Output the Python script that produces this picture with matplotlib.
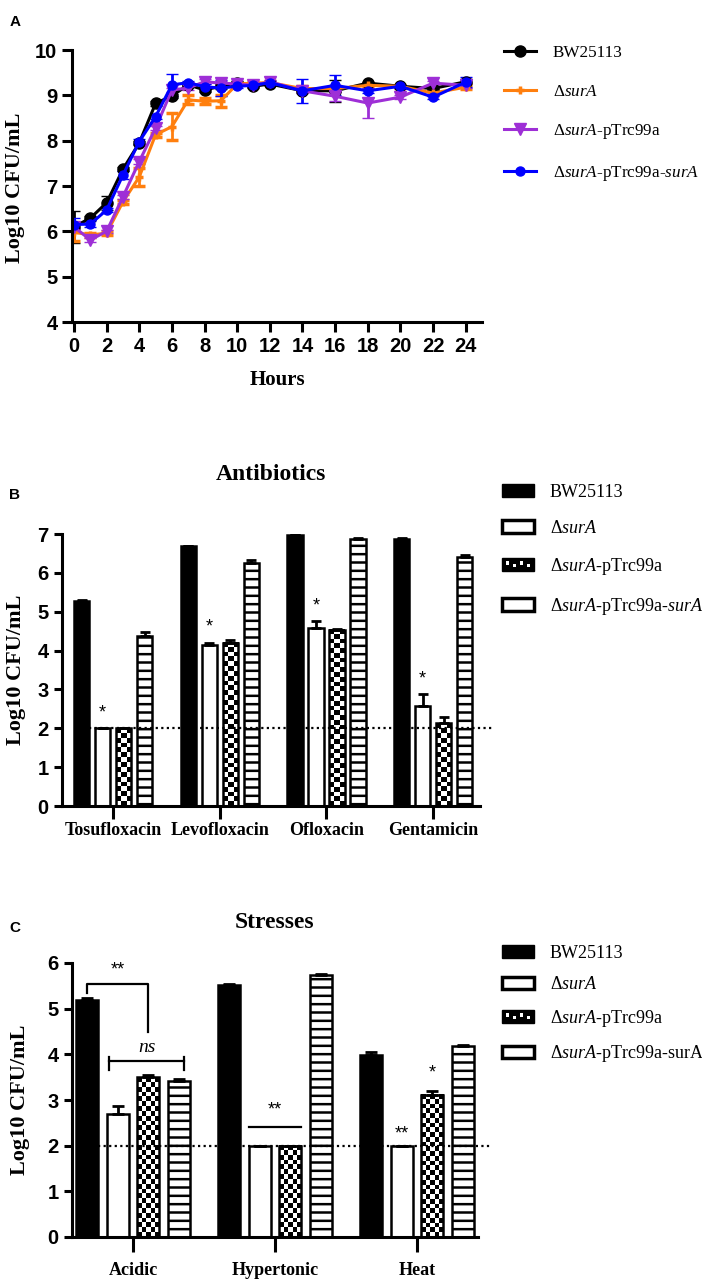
import numpy as np
import matplotlib
matplotlib.use('Agg')
import matplotlib.pyplot as plt
from matplotlib.lines import Line2D
from matplotlib.patches import Patch, Rectangle
from matplotlib.legend_handler import HandlerBase

plt.rcParams['font.family'] = 'Liberation Sans'
plt.rcParams['mathtext.fontset'] = 'custom'
plt.rcParams['mathtext.rm'] = 'Liberation Serif'
plt.rcParams['mathtext.it'] = 'Liberation Serif:italic'
plt.rcParams['hatch.linewidth'] = 1.8
plt.rcParams['axes.linewidth'] = 2.2

# ---- panel A: growth curves ----
hours = [0, 1, 2, 3, 4, 5, 6, 7, 8, 9, 10, 11, 12, 14, 16, 18, 20, 22, 24]
bw25113 = [6.10, 6.29, 6.63, 7.37, 7.95, 8.82, 8.99, 9.23, 9.12, 9.20, 9.28, 9.20, 9.25, 9.10, 9.10, 9.27, 9.20, 9.15, 9.30]
bw25113_err = [0.35, 0.05, 0.15, 0.05, 0.05, 0.05, 0.05, 0.03, 0.05, 0.05, 0.03, 0.03, 0.03, 0.05, 0.24, 0.03, 0.03, 0.03, 0.05]
sura = [5.98, 5.92, 5.96, 6.65, 7.20, 8.13, 8.31, 8.90, 8.87, 8.88, 9.25, 9.27, 9.28, 9.15, 9.15, 9.22, 9.20, 9.05, 9.18]
sura_err = [0.20, 0.04, 0.04, 0.05, 0.20, 0.05, 0.30, 0.10, 0.07, 0.13, 0.03, 0.03, 0.03, 0.05, 0.05, 0.05, 0.03, 0.05, 0.05]
sura_p = [6.10, 5.81, 6.00, 6.76, 7.54, 8.28, 9.12, 9.16, 9.30, 9.27, 9.25, 9.22, 9.30, 9.10, 8.98, 8.83, 8.96, 9.27, 9.22]
sura_p_err = [0.05, 0.04, 0.04, 0.05, 0.05, 0.05, 0.05, 0.05, 0.05, 0.05, 0.03, 0.03, 0.03, 0.05, 0.10, 0.33, 0.05, 0.05, 0.05]
sura_ps = [6.15, 6.16, 6.47, 7.24, 7.98, 8.53, 9.23, 9.28, 9.19, 9.16, 9.20, 9.22, 9.28, 9.10, 9.22, 9.10, 9.20, 8.96, 9.29]
sura_ps_err = [0.15, 0.06, 0.05, 0.08, 0.05, 0.05, 0.25, 0.03, 0.05, 0.18, 0.03, 0.03, 0.03, 0.26, 0.22, 0.05, 0.03, 0.03, 0.11]

strain_labels = ['BW25113', r'Δ$\mathit{surA}$', r'Δ$\mathit{surA}$-pTrc99a',
                 r'Δ$\mathit{surA}$-pTrc99a-$\mathit{surA}$']
strain_labels_c = strain_labels[:3] + [r'Δ$\mathit{surA}$-pTrc99a-surA']

# ---- panel B: antibiotics ----
antibiotics = ['Tosufloxacin', 'Levofloxacin', 'Ofloxacin', 'Gentamicin']
ab_vals = [[5.28, 6.68, 6.97, 6.88],
           [2.00, 4.15, 4.58, 2.58],
           [2.00, 4.20, 4.53, 2.13],
           [4.37, 6.25, 6.88, 6.40]]
ab_errs = [[0.03, 0.02, 0.02, 0.02],
           [0.00, 0.05, 0.17, 0.30],
           [0.00, 0.06, 0.02, 0.15],
           [0.12, 0.08, 0.02, 0.05]]

# ---- panel C: stresses ----
stresses = ['Acidic', 'Hypertonic', 'Heat']
st_vals = [[5.20, 5.52, 3.98],
           [2.70, 2.00, 2.00],
           [3.50, 2.00, 3.12],
           [3.42, 5.73, 4.18]]
st_errs = [[0.03, 0.03, 0.08],
           [0.17, 0.00, 0.00],
           [0.04, 0.00, 0.07],
           [0.04, 0.02, 0.02]]
detection_limit = 2.0

W, H = 702, 1284
fig = plt.figure(figsize=(W / 100, H / 100), dpi=100)


def px_axes(l, t, r, b):
    return fig.add_axes([l / W, 1 - b / H, (r - l) / W, (b - t) / H])


def style(ax, xlen=6, ylen=6):
    ax.spines['top'].set_visible(False)
    ax.spines['right'].set_visible(False)
    ax.tick_params(axis='x', width=2.2, length=xlen, labelsize=14.5)
    ax.tick_params(axis='y', width=2.2, length=ylen, labelsize=14.5)
    for lab in ax.get_xticklabels() + ax.get_yticklabels():
        lab.set_fontweight('bold')


serif_b = dict(family='Liberation Serif', weight='bold')

# ================= A =================
axA = px_axes(72, 50, 482, 322)
colors = ['black', '#FF7F0E', '#9E2FD6', '#0000FF']
markers = [('o', 8, 1), ('+', 6, 2.5), ('v', 8, 1), ('o', 6.5, 1)]
series = [(bw25113, bw25113_err), (sura, sura_err), (sura_p, sura_p_err), (sura_ps, sura_ps_err)]
handles_a = []
for (vals, err), c, (m, ms, mew), lab in zip(series, colors, markers, strain_labels):
    axA.errorbar(hours, vals, yerr=err, color=c, marker=m, ms=ms, mew=mew, lw=2.2,
                 elinewidth=2, capsize=4.5, capthick=2)
    handles_a.append(Line2D([], [], color=c, marker=m, ms=ms, mew=mew, lw=2.2, label=lab))
axA.set_xlim(-0.12, 25)
axA.set_ylim(4, 10)
axA.set_xticks(range(0, 25, 2))
axA.set_yticks(range(4, 11))
style(axA, xlen=7, ylen=7)
fig.text(15 / W, 1 - 188 / H, 'Log10 CFU/mL', rotation=90, ha='center', va='center', size=16, **serif_b)
fig.text(277 / W, 1 - 380 / H, 'Hours', ha='center', va='center', size=15, **serif_b)
fig.text(15 / W, 1 - 22 / H, 'A', ha='center', va='center', size=11, weight='bold')
fig.legend(handles=handles_a, loc='upper left', bbox_to_anchor=(504 / W, 1 - 45 / H),
           frameon=False, borderpad=0, borderaxespad=0, handlelength=1.9,
           handletextpad=0.95, labelspacing=1.32, prop=dict(family='Liberation Serif', size=12.3))


# ================= bars helpers =================
class CheckerHandler(HandlerBase):
    def create_artists(self, legend, orig_handle, xdescent, ydescent, width, height, fontsize, trans):
        x0, y0 = -xdescent, -ydescent
        arts = [Rectangle((x0, y0), width, height, facecolor='black', edgecolor='black',
                          lw=1, transform=trans)]
        n = 4
        cw = width / (2 * n + 1)
        for i in range(n):
            yy = y0 + height * (0.5 if i % 2 == 0 else 0.3)
            arts.append(Rectangle((x0 + cw * (1 + 2 * i), yy), cw, height * 0.25,
                                  facecolor='white', lw=0, transform=trans))
        return arts


def draw_bars(ax, n_groups, vals_list, errs_list, stride, width, capsize):
    groups = np.arange(n_groups)
    offsets = (np.arange(4) - 1.5) * stride
    containers = []
    for k, (vals, errs) in enumerate(zip(vals_list, errs_list)):
        x = groups + offsets[k]
        if k == 0:
            b = ax.bar(x, vals, width, color='black', edgecolor='black', lw=1.8, zorder=2)
        elif k == 1:
            b = ax.bar(x, vals, width, color='white', edgecolor='black', lw=1.8, zorder=2)
        elif k == 2:
            b = ax.bar(x, vals, width, facecolor='none', edgecolor='black', lw=1.8, zorder=2)
        else:
            b = ax.bar(x, vals, width, facecolor='white', edgecolor='black', lw=1.8,
                       hatch='--', zorder=2)
        ax.errorbar(x, vals, yerr=[np.zeros(len(vals)), errs], fmt='none', ecolor='black',
                    elinewidth=2, capsize=capsize, capthick=2, zorder=3)
        containers.append(b)
    return groups, containers


def checker_fill(ax, bars, cell_px=4.8):
    for bar in bars:
        x0, y0 = bar.get_x(), bar.get_y()
        w, h = bar.get_width(), bar.get_height()
        p0 = ax.transData.transform((x0, y0))
        p1 = ax.transData.transform((x0 + w, y0 + h))
        nx = max(1, int(round((p1[0] - p0[0]) / cell_px)))
        ny = max(1, int(round((p1[1] - p0[1]) / cell_px)))
        img = np.indices((ny, nx)).sum(axis=0) % 2
        ax.imshow(img, cmap='gray', extent=(x0, x0 + w, y0, y0 + h), aspect='auto',
                  interpolation='nearest', zorder=1.9)


def bar_legend(top_px, spacing, labels):
    checker_proxy = Patch(facecolor='black')
    hs = [Patch(facecolor='black', edgecolor='black'),
          Patch(facecolor='white', edgecolor='black', lw=2.5),
          checker_proxy,
          Patch(facecolor='white', edgecolor='black', lw=2.5)]
    fig.legend(hs, labels, loc='upper left', bbox_to_anchor=(502 / W, 1 - top_px / H),
               frameon=False, borderpad=0, borderaxespad=0, handlelength=1.75,
               handleheight=0.7, handletextpad=0.9, labelspacing=spacing,
               handler_map={checker_proxy: CheckerHandler()},
               prop=dict(family='Liberation Serif', size=13))


# ================= B =================
axB = px_axes(62, 534, 480, 806)
gB, barsB = draw_bars(axB, len(antibiotics), ab_vals, ab_errs, 0.197, 0.145, 3.6)
axB.set_xlim(-0.48, 3.44)
axB.set_ylim(0, 7)
checker_fill(axB, barsB[2])
axB.set_xlim(-0.48, 3.44)
axB.set_ylim(0, 7)
axB.set_xticks(gB)
axB.set_xticklabels(antibiotics, size=13, **serif_b)
axB.set_yticks(range(0, 8))
style(axB, xlen=9.5, ylen=6)
axB.tick_params(axis='x', pad=2)
for lab in axB.get_xticklabels():
    lab.set_family('Liberation Serif')
    lab.set_size(13)
x_start = barsB[0][0].get_x() + barsB[0][0].get_width()
axB.plot([x_start, 3.56], [detection_limit] * 2, ls=(0, (1, 1.5)), color='black', lw=1.6,
         clip_on=False, zorder=4)
for i in range(len(antibiotics)):
    bx = barsB[1][i].get_x() + barsB[1][i].get_width() / 2
    axB.text(bx, ab_vals[1][i] + ab_errs[1][i] + 0.18, '*', ha='center', va='bottom', size=13)
fig.text(16 / W, 1 - 670 / H, 'Log10 CFU/mL', rotation=90, ha='center', va='center', size=16, **serif_b)
fig.text(271 / W, 1 - 474 / H, 'Antibiotics', ha='center', va='center', size=17, **serif_b)
fig.text(15 / W, 1 - 495 / H, 'B', ha='center', va='center', size=11, weight='bold')
bar_legend(484, 1.05, strain_labels)

# ================= C =================
axC = px_axes(72, 963, 478, 1237)
gC, barsC = draw_bars(axC, len(stresses), st_vals, st_errs, 0.215, 0.155, 4.6)
axC.set_xlim(-0.43, 2.43)
axC.set_ylim(0, 6)
checker_fill(axC, barsC[2])
axC.set_xlim(-0.43, 2.43)
axC.set_ylim(0, 6)
axC.set_xticks(gC)
axC.set_xticklabels(stresses, size=13, **serif_b)
axC.set_yticks(range(0, 7))
style(axC, xlen=11, ylen=6)
axC.tick_params(axis='x', pad=7)
for lab in axC.get_xticklabels():
    lab.set_family('Liberation Serif')
    lab.set_size(13)
x_start = barsC[0][0].get_x() + barsC[0][0].get_width()
axC.plot([x_start, 2.53], [detection_limit] * 2, ls=(0, (1, 1.5)), color='black', lw=1.6,
         clip_on=False, zorder=4)


def center(b):
    return b.get_x() + b.get_width() / 2


# significance marks
bk, wt, ck, sp = (barsC[k][0] for k in range(4))
top = st_vals[0][0] + 0.35
axC.plot([center(bk), center(bk), center(ck), center(ck)], [st_vals[0][0] + 0.15, top, top, 4.5],
         color='black', lw=1.6)
axC.text((center(bk) + center(ck)) / 2, top + 0.12, '**', ha='center', va='bottom', size=13)
ns_y = 3.85
lx, rx = center(wt) - 0.4 * wt.get_width(), center(sp) + 0.25 * sp.get_width()
axC.plot([lx, rx], [ns_y, ns_y], color='black', lw=1.6)
for xx in (lx, rx):
    axC.plot([xx, xx], [ns_y - 0.2, ns_y + 0.1], color='black', lw=1.6)
axC.text((lx + rx) / 2, ns_y + 0.12, 'ns', ha='center', va='bottom', size=14,
         family='Liberation Serif', style='italic')
hw, hc = barsC[1][1], barsC[2][1]
axC.plot([hw.get_x(), hc.get_x() + hc.get_width()], [2.4, 2.4], color='black', lw=1.6)
axC.text((center(hw) + center(hc)) / 2, 2.6, '**', ha='center', va='bottom', size=13)
axC.text(center(barsC[1][2]), st_vals[1][2] + 0.08, '**', ha='center', va='bottom', size=13)
axC.text(center(barsC[2][2]), st_vals[2][2] + st_errs[2][2] + 0.22, '*', ha='center', va='bottom', size=13)

fig.text(20 / W, 1 - 1100 / H, 'Log10 CFU/mL', rotation=90, ha='center', va='center', size=16, **serif_b)
fig.text(275 / W, 1 - 923 / H, 'Stresses', ha='center', va='center', size=17, **serif_b)
fig.text(15 / W, 1 - 928 / H, 'C', ha='center', va='center', size=11, weight='bold')
bar_legend(945, 0.8, strain_labels_c)

fig.savefig('out.png', dpi=100)
